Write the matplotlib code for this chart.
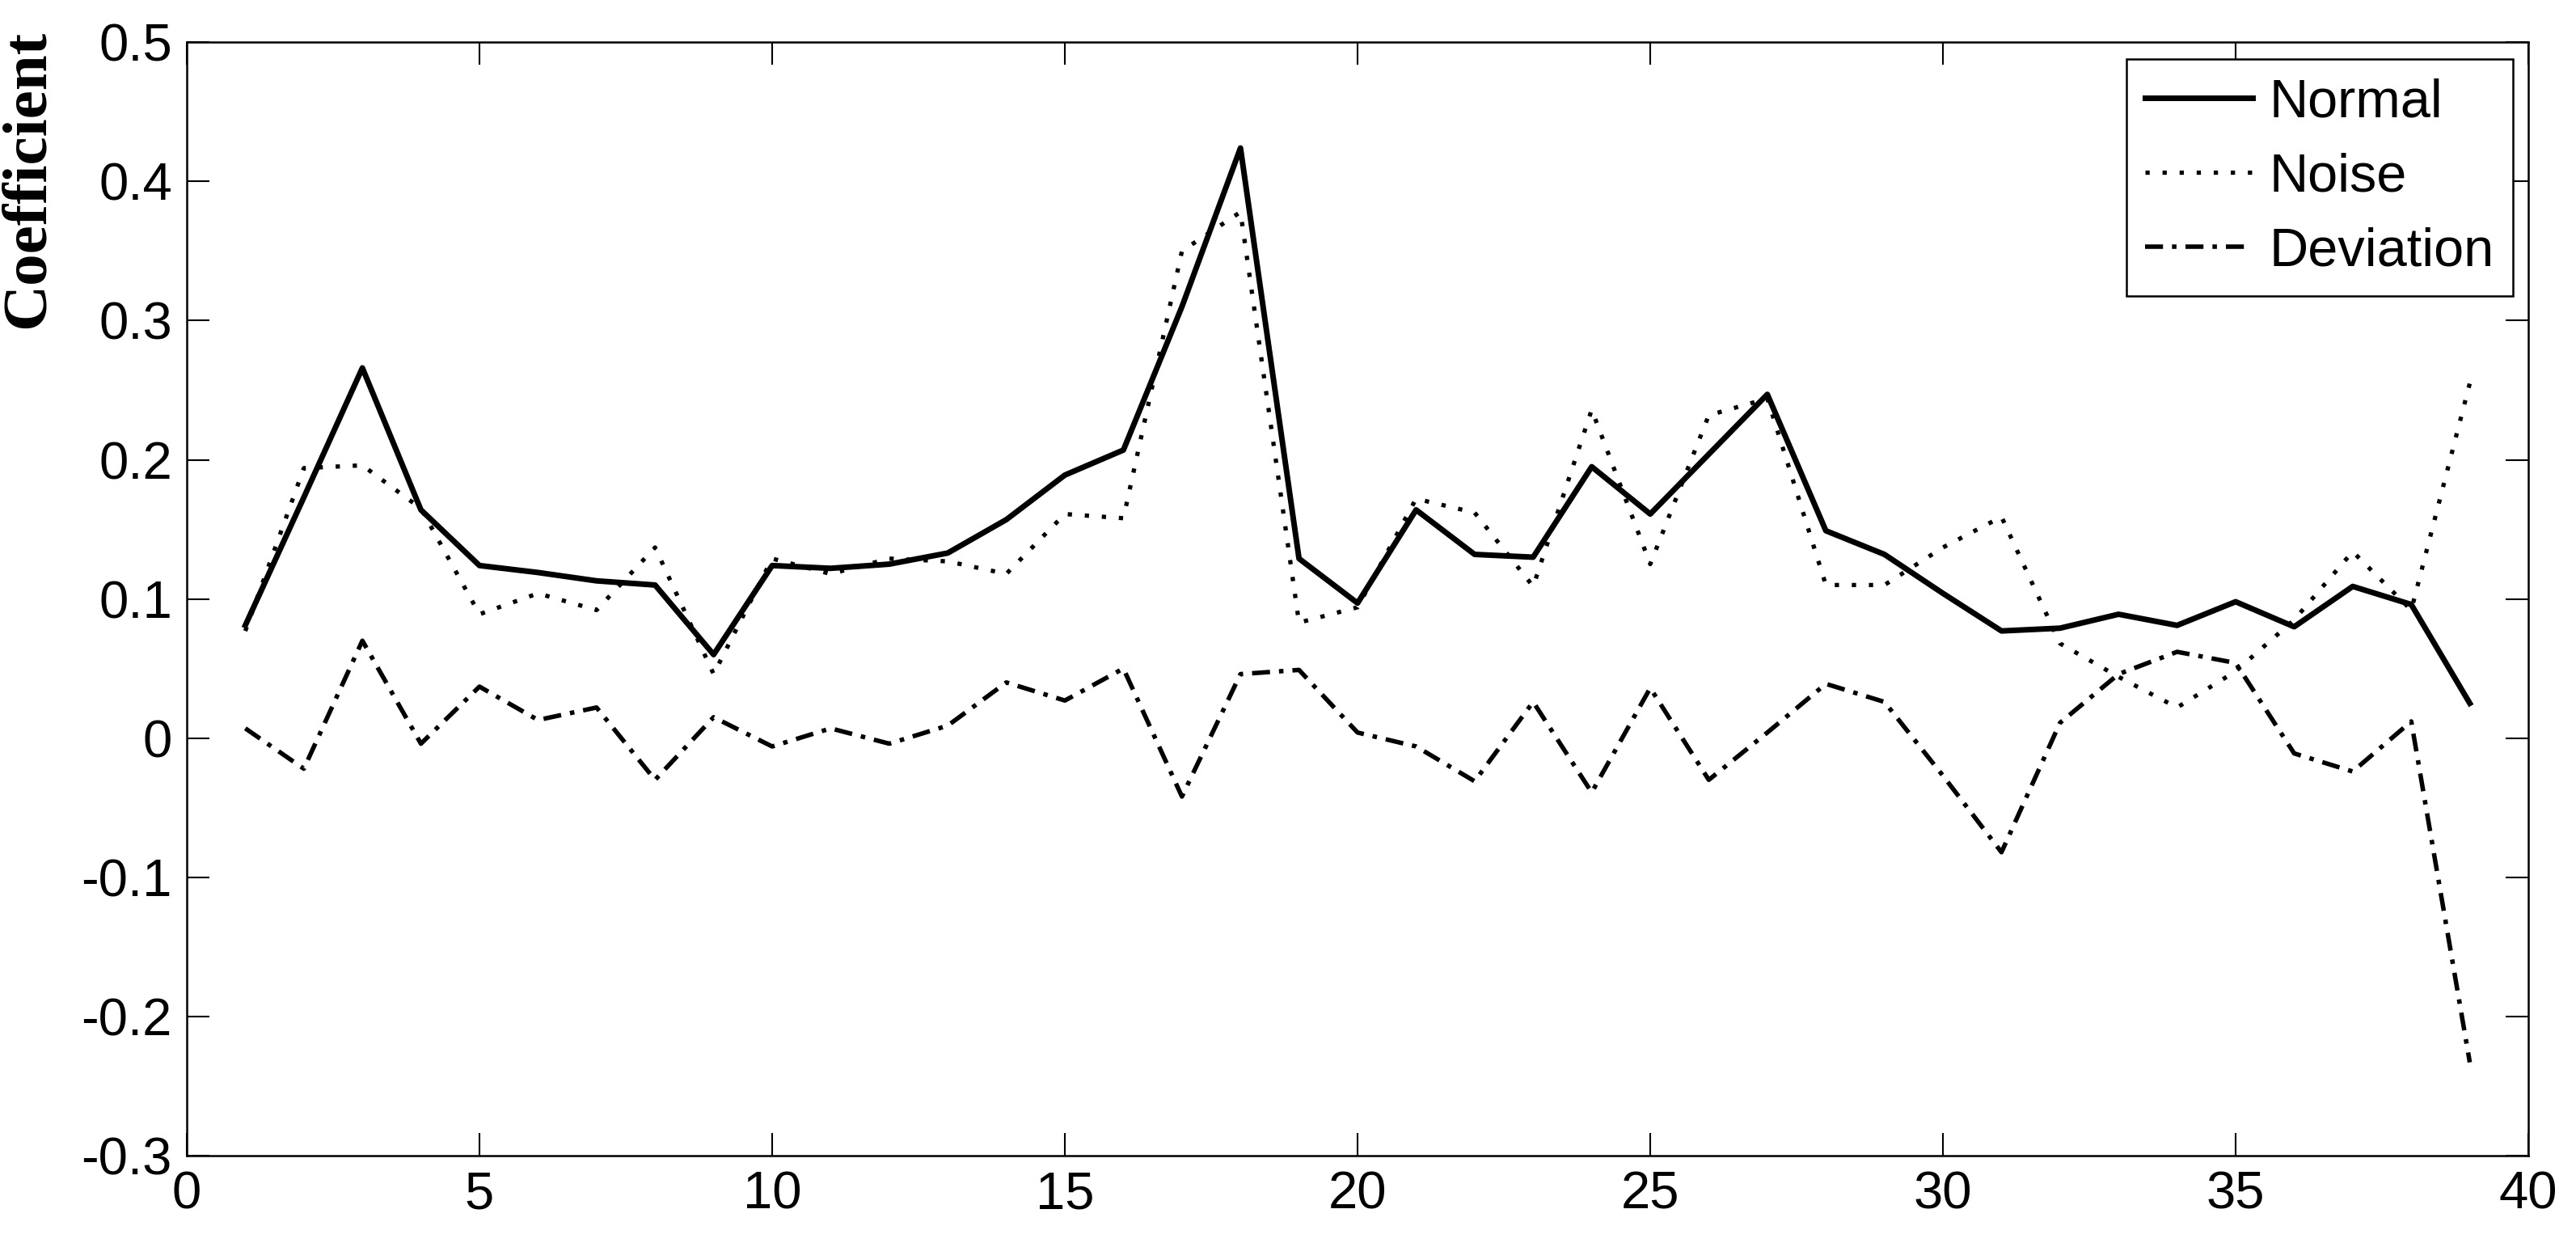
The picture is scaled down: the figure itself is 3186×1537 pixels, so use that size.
"""
Normal vs. noisy coefficients per index, with their deviation.
"""

import matplotlib
matplotlib.use("Agg")
import matplotlib.pyplot as plt
from matplotlib.ticker import FixedLocator

index = list(range(1, 40))

normal = [0.081, 0.173, 0.266, 0.164, 0.124, 0.119, 0.113, 0.110, 0.060, 0.124,
          0.122, 0.125, 0.133, 0.157, 0.189, 0.207, 0.310, 0.424, 0.129, 0.097,
          0.164, 0.132, 0.130, 0.195, 0.161, 0.204, 0.247, 0.149, 0.132, 0.104,
          0.077, 0.079, 0.089, 0.081, 0.098, 0.080, 0.109, 0.096, 0.025]

noise = [0.077, 0.194, 0.196, 0.165, 0.089, 0.104, 0.092, 0.137, 0.046, 0.129,
         0.118, 0.129, 0.127, 0.118, 0.161, 0.158, 0.350, 0.378, 0.083, 0.094,
         0.172, 0.162, 0.109, 0.236, 0.125, 0.232, 0.244, 0.110, 0.110, 0.137,
         0.159, 0.068, 0.044, 0.022, 0.048, 0.085, 0.134, 0.092, 0.255]

deviation = [0.007, -0.022, 0.070, -0.004, 0.037, 0.013, 0.022, -0.030, 0.015, -0.006,
             0.007, -0.004, 0.009, 0.040, 0.027, 0.050, -0.042, 0.046, 0.049, 0.004,
             -0.006, -0.031, 0.026, -0.039, 0.036, -0.030, 0.004, 0.039, 0.026, -0.027,
             -0.082, 0.011, 0.046, 0.062, 0.054, -0.011, -0.024, 0.012, -0.233]

xticks = [0, 5, 10, 15, 20, 25, 30, 35, 40]
yticks = [-0.3, -0.2, -0.1, 0, 0.1, 0.2, 0.3, 0.4, 0.5]
ytick_labels = ["-0.3", "-0.2", "-0.1", "0", "0.1", "0.2", "0.3", "0.4", "0.5"]

plt.rcParams["font.family"] = ["Liberation Sans", "DejaVu Sans"]
plt.rcParams["axes.unicode_minus"] = False

fig = plt.figure(figsize=(31.86, 15.37), dpi=100)
ax = fig.add_axes([0.0725, 0.0703, 0.909, 0.8957])

ax.plot(index, normal, color="black", lw=5.0, ls="-", label="Normal")
ax.plot(index, noise, color="black", lw=3.8, ls=(0, (1, 3.0)), label="Noise")
ax.plot(index, deviation, color="black", lw=4.0, ls=(0, (4, 2, 1, 2)),
        label="Deviation")

ax.set_xlim(0, 40)
ax.set_ylim(-0.3, 0.5)
ax.xaxis.set_major_locator(FixedLocator(xticks))
ax.set_yticks(yticks)
ax.set_yticklabels(ytick_labels)
ax.tick_params(direction="in", length=20, width=1.5, labelsize=47,
               top=True, right=True, pad=13)
for s in ax.spines.values():
    s.set_linewidth(1.8)

# rotated bold serif label, top-aligned like the original
fig.text(0.011, 0.976, "Coefficient", rotation=90, ha="center", va="top",
         family=["Liberation Serif", "DejaVu Serif"], weight="bold", fontsize=57)

leg = ax.legend(loc="upper right", bbox_to_anchor=(0.9934, 0.9847),
                borderaxespad=0, fontsize=48, fancybox=False, framealpha=1,
                edgecolor="black", handlelength=2.0, handletextpad=0.3,
                borderpad=0.35, labelspacing=0.45)
leg.get_frame().set_linewidth(1.8)

fig.savefig("out.png", dpi=100)
plt.close(fig)
